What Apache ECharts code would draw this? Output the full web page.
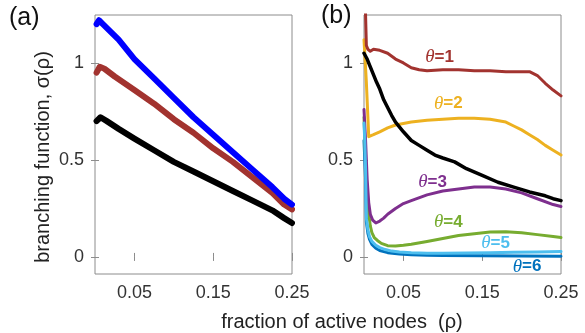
<!DOCTYPE html>
<html>
<head>
<meta charset="utf-8">
<script src="https://cdn.jsdelivr.net/npm/echarts@6/dist/echarts.min.js"></script>
<style>
  html, body { margin: 0; padding: 0; background: #fff; }
  #chart { width: 585px; height: 333px; }
</style>
</head>
<body>
<div id="chart"></div>
<script>
// tick values and labels
const xTicks = [0.05, 0.15, 0.25];
const xTickLabels = ['0.05', '0.15', '0.25'];
const yTicks = [0, 0.5, 1];
const yTickLabels = ['0', '0.5', '1'];

// panel (a): [rho, sigma]
const aBlue = [[0.002,1.20],[0.005,1.22],[0.01,1.20],[0.02,1.16],[0.03,1.12],[0.05,1.02],[0.075,0.92],[0.1,0.82],
  [0.125,0.72],[0.15,0.63],[0.175,0.54],[0.2,0.45],[0.225,0.36],[0.24,0.30],[0.25,0.27]];
const aRed = [[0.002,0.95],[0.006,0.98],[0.012,0.97],[0.025,0.93],[0.05,0.86],[0.075,0.79],[0.1,0.71],[0.125,0.64],
  [0.15,0.56],[0.175,0.49],[0.2,0.41],[0.225,0.33],[0.24,0.27],[0.25,0.245]];
const aBlack = [[0.002,0.70],[0.007,0.72],[0.015,0.70],[0.03,0.66],[0.05,0.61],[0.075,0.55],[0.1,0.49],[0.125,0.44],
  [0.15,0.39],[0.175,0.34],[0.2,0.29],[0.225,0.24],[0.24,0.20],[0.25,0.175]];

// panel (b): [rho, sigma]
const bTheta1 = [[0.001,1.40],[0.003,1.09],[0.005,1.07],[0.008,1.06],[0.012,1.07],[0.02,1.065],[0.03,1.05],[0.04,1.02],
  [0.05,1.0],[0.06,0.975],[0.07,0.965],[0.08,0.96],[0.1,0.965],[0.12,0.965],[0.14,0.96],[0.16,0.96],[0.18,0.955],
  [0.2,0.955],[0.21,0.955],[0.22,0.935],[0.23,0.895],[0.24,0.86],[0.25,0.83]];
const bTheta2 = [[0,1.12],[0.003,0.9],[0.006,0.62],[0.008,0.61],[0.012,0.63],[0.02,0.645],[0.03,0.665],[0.04,0.68],
  [0.06,0.695],[0.08,0.705],[0.1,0.71],[0.12,0.715],[0.14,0.715],[0.16,0.71],[0.18,0.695],[0.19,0.675],[0.2,0.655],
  [0.21,0.63],[0.22,0.605],[0.23,0.575],[0.24,0.55],[0.25,0.525]];
const bBlack = [[0,1.05],[0.004,1.02],[0.008,0.98],[0.012,0.94],[0.016,0.9],[0.02,0.865],[0.025,0.81],[0.03,0.77],
  [0.035,0.73],[0.04,0.695],[0.05,0.645],[0.06,0.6],[0.07,0.575],[0.08,0.55],[0.09,0.525],[0.1,0.51],[0.115,0.49],
  [0.13,0.455],[0.15,0.42],[0.17,0.385],[0.19,0.36],[0.21,0.335],[0.23,0.315],[0.24,0.3],[0.25,0.29]];
const bTheta3 = [[0,0.76],[0.002,0.6],[0.004,0.4],[0.006,0.28],[0.008,0.22],[0.011,0.19],[0.015,0.175],[0.02,0.185],
  [0.025,0.2],[0.03,0.22],[0.04,0.25],[0.05,0.275],[0.06,0.29],[0.08,0.32],[0.1,0.34],[0.12,0.35],[0.14,0.36],
  [0.16,0.36],[0.18,0.35],[0.2,0.33],[0.22,0.3],[0.24,0.27],[0.25,0.26]];
const bTheta4 = [[0,0.72],[0.002,0.5],[0.004,0.33],[0.006,0.22],[0.008,0.16],[0.01,0.125],[0.013,0.1],[0.017,0.085],
  [0.022,0.07],[0.03,0.058],[0.04,0.056],[0.05,0.06],[0.06,0.065],[0.08,0.08],[0.1,0.095],[0.12,0.11],[0.14,0.12],
  [0.16,0.128],[0.18,0.13],[0.2,0.125],[0.22,0.115],[0.24,0.105],[0.25,0.1]];
const bTheta5 = [[0,0.69],[0.001,0.6],[0.002,0.45],[0.003,0.2],[0.005,0.14],[0.007,0.105],[0.01,0.08],[0.015,0.06],
  [0.02,0.048],[0.027,0.038],[0.035,0.03],[0.045,0.025],[0.06,0.021],[0.08,0.019],[0.1,0.019],[0.13,0.02],
  [0.16,0.022],[0.19,0.024],[0.22,0.026],[0.25,0.028]];
const bTheta6 = [[0,0.6],[0.002,0.4],[0.003,0.18],[0.005,0.12],[0.007,0.09],[0.01,0.065],[0.015,0.045],[0.02,0.033],
  [0.03,0.022],[0.045,0.015],[0.06,0.011],[0.08,0.009],[0.1,0.008],[0.15,0.006],[0.2,0.005],[0.25,0.004]];

// theta labels: text and where they sit (data coords)
const thetaNames = ['1', '2', '3', '4', '5', '6'];
const thetaLabelPos = [[0.096,1.03],[0.107,0.79],[0.087,0.387],[0.107,0.18],[0.167,0.072],[0.207,-0.05]];

const RED = '#A2332F', YEL = '#EDB120', PUR = '#7E2F8E', GRN = '#77AC30', LBL = '#4DBEEE', DBL = '#0072BD';
const AX = '#8c8c8c';

const chart = echarts.init(document.getElementById('chart'));

function xAx(grid, pos) {
  const withLabels = pos === 'bottom';
  return {
    type: 'value', gridIndex: grid, position: pos, min: 0, max: 0.25,
    axisLine: { show: false }, splitLine: { show: false },
    axisTick: { inside: true, length: 4, customValues: xTicks, lineStyle: { color: AX } },
    axisLabel: {
      show: withLabels, customValues: xTicks, margin: 10, fontSize: 18, color: '#333',
      fontFamily: 'Liberation Sans, Arial',
      formatter: v => xTickLabels[xTicks.findIndex(t => Math.abs(t - v) < 1e-9)] || ''
    }
  };
}
function yAx(grid, pos) {
  const withLabels = pos === 'left';
  return {
    type: 'value', gridIndex: grid, position: pos, min: -0.088, max: 1.247,
    axisLine: { show: false }, splitLine: { show: false },
    axisTick: { inside: true, length: 4, customValues: yTicks, lineStyle: { color: AX } },
    axisLabel: {
      show: withLabels, customValues: yTicks, margin: 11, fontSize: 18, color: '#333',
      fontFamily: 'Liberation Sans, Arial',
      formatter: v => yTickLabels[yTicks.findIndex(t => Math.abs(t - v) < 1e-9)] || ''
    }
  };
}

function line(data, color, width, axis) {
  return {
    type: 'line', data: data, xAxisIndex: axis, yAxisIndex: axis,
    showSymbol: false, symbol: 'none', clip: true, animation: false,
    lineStyle: { color: color, width: width, join: 'round', cap: 'round' }
  };
}

function thetaMark(i, color) {
  return {
    symbol: 'circle', symbolSize: 1, itemStyle: { color: 'rgba(0,0,0,0)' },
    data: [{ coord: thetaLabelPos[i] }],
    label: {
      show: true, position: 'inside',
      formatter: '{t|θ}{n|=' + thetaNames[i] + '}',
      rich: {
        t: { fontFamily: 'Liberation Serif, serif', fontStyle: 'italic', fontSize: 19, color: color },
        n: { fontFamily: 'Liberation Sans, Arial', fontWeight: 'bold', fontSize: 17, color: color }
      }
    }
  };
}

const s6 = line(bTheta6, DBL, 3, 2); s6.markPoint = thetaMark(5, DBL);
const s4 = line(bTheta4, GRN, 3, 2); s4.markPoint = thetaMark(3, GRN);
const s3 = line(bTheta3, PUR, 3, 2); s3.markPoint = thetaMark(2, PUR);
const s2 = line(bTheta2, YEL, 3, 2); s2.markPoint = thetaMark(1, YEL);
const s1 = line(bTheta1, RED, 3, 2); s1.markPoint = thetaMark(0, RED);
const s5 = line(bTheta5, LBL, 3, 2); s5.markPoint = thetaMark(4, LBL);

chart.setOption({
  animation: false,
  backgroundColor: '#fff',
  grid: [
    { left: 95, top: 15, width: 197, height: 259, show: true, borderColor: AX, borderWidth: 1, backgroundColor: 'transparent' },
    { left: 364, top: 15, width: 197, height: 259, show: true, borderColor: AX, borderWidth: 1, backgroundColor: 'transparent' }
  ],
  xAxis: [xAx(0, 'bottom'), xAx(0, 'top'), xAx(1, 'bottom'), xAx(1, 'top')],
  yAxis: [yAx(0, 'left'), yAx(0, 'right'), yAx(1, 'left'), yAx(1, 'right')],
  series: [
    line(aBlack, '#000000', 6, 0),
    line(aRed, RED, 6, 0),
    line(aBlue, '#0000FF', 6, 0),
    s6, s4, s3, s2, s1, s5,
    line(bBlack, '#000000', 3.5, 2)
  ],
  graphic: [
    { type: 'text', left: 9, top: 6, style: { text: '(a)', fontSize: 25, fill: '#111', fontFamily: 'Liberation Sans, Arial' } },
    { type: 'text', left: 321, top: 4, style: { text: '(b)', fontSize: 25, fill: '#111', fontFamily: 'Liberation Sans, Arial' } },
    { type: 'text', x: 43, y: 157, rotation: Math.PI / 2,
      style: { text: 'branching function, σ(ρ)', fontSize: 20, fill: '#222', align: 'center', verticalAlign: 'middle', fontFamily: 'Liberation Sans, Arial' } },
    { type: 'text', x: 342, y: 322,
      style: { text: 'fraction of active nodes  (ρ)', fontSize: 20, fill: '#222', align: 'center', verticalAlign: 'middle', fontFamily: 'Liberation Sans, Arial' } }
  ]
});
</script>
</body>
</html>
